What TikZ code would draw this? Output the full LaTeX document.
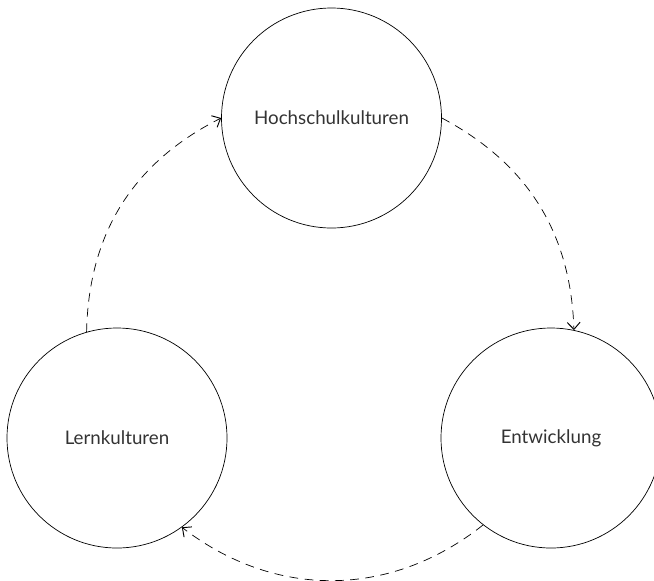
\documentclass[tikz,border=0pt]{standalone}
\usepackage{fontspec}
\setmainfont{Lato}
\usepackage{tikz}
\usetikzlibrary{arrows.meta}
\definecolor{inkgray}{HTML}{333333}
\tikzset{
  kultur/.style={circle,draw,line width=0.6pt,minimum size=6.6cm,inner sep=0pt,
    font=\fontsize{16}{19}\selectfont,text=inkgray},
  zyklus/.style={line width=0.6pt,dash pattern=on 7.5pt off 5.5pt,
    -{Straight Barb[length=6pt,width=11pt,line width=0.8pt]}}
}
\begin{document}
\begin{tikzpicture}[x=0.03cm,y=-0.03cm]
\useasboundingbox (0,0) rectangle (654,580);
\node[kultur] (hoch) at (331.5,118) {Hochschulkulturen};
\node[kultur] (lern) at (117,438) {Lernkulturen};
\node[kultur] (entw) at (551,438) {Entwicklung};
\draw[zyklus] (lern.106) to[bend left=31] (hoch.west);
\draw[zyklus] (hoch.east) to[bend left=30] (entw.78);
\draw[zyklus] (entw.232) to[bend left=38] (lern.306);
\end{tikzpicture}
\end{document}
